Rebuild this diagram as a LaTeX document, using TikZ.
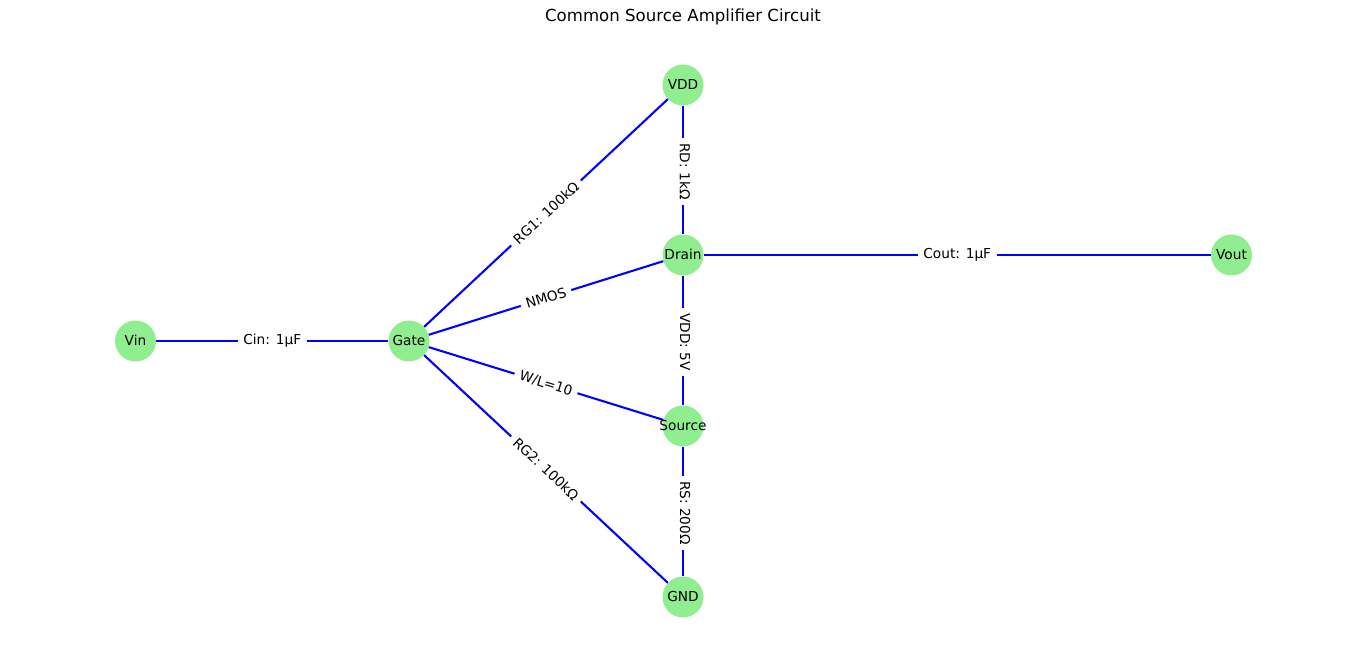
\documentclass[tikz,border=0pt]{standalone}
\usepackage{fontspec}
\setmainfont{DejaVu Sans}
\usetikzlibrary{positioning,calc}
\definecolor{lightgreen}{HTML}{90EE90}
% labels keep the circle at one size
\newcommand{\devtext}[1]{\raisebox{0.8pt}{\makebox[0pt]{#1}}}
\tikzset{
	device/.style={circle, fill=lightgreen, minimum size=41pt, inner sep=0, font=\fontsize{13.7pt}{16pt}\selectfont},
	wire/.style={blue, line width=2.08pt},
	value/.style={fill=white, midway, sloped, inner sep=0, outer sep=0, inner xsep=5.5pt, inner ysep=3pt, text=black, font=\fontsize{13.7pt}{16pt}\selectfont},
	upright/.style={value, xshift=1.5pt, yshift=2pt}
}
\begin{document}
\begin{tikzpicture}[x=1pt, y=1pt]
	\useasboundingbox (0,0) rectangle (1366,663);
	\node[font=\fontsize{16.6pt}{20pt}\selectfont] (title) at (683, 646) {Common Source Amplifier Circuit};
	\node[device] (vin) at (135.5, 322) {\devtext{Vin}};
	\node[device] (gate) at (409, 322) {\devtext{Gate}};
	\node[device] (vdd) at (683, 578) {\devtext{VDD}};
	\node[device] (drain) at (683, 408) {\devtext{Drain}};
	\node[device] (source) at (683, 237) {\devtext{Source}};
	\node[device] (gnd) at (683, 66) {\devtext{GND}};
	\node[device] (vout) at (1231.5, 408) {\devtext{Vout}};
	\draw[wire] (vin) -- node[value] (cin) {Cin: 1µF} (gate);
	\draw[wire] (gate) -- node[value] (rg1) {RG1: 100kΩ} (vdd);
	\draw[wire] (gate) -- node[value] (rg2) {RG2: 100kΩ} (gnd);
	\draw[wire] (gate) -- node[value] (nmos) {NMOS} (drain);
	\draw[wire] (gate) -- node[value] (wl) {W/L=10} (source);
	\draw[wire] (vdd) -- node[upright] (rd) {RD: 1kΩ} (drain);
	\draw[wire] (drain) -- node[upright] (vddv) {VDD: 5V} (source);
	\draw[wire] (source) -- node[upright] (rs) {RS: 200Ω} (gnd);
	\draw[wire] (drain) -- node[value] (cout) {Cout: 1µF} (vout);
\end{tikzpicture}
\end{document}
